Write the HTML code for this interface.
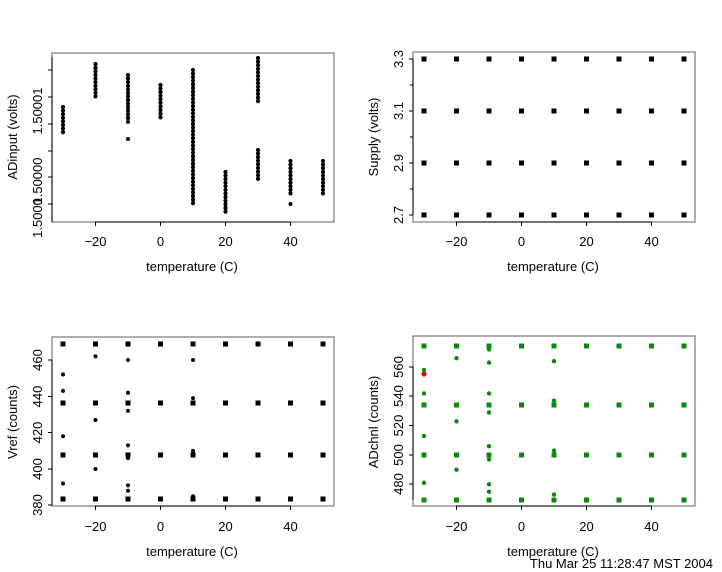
<!DOCTYPE html><html><head><style>body{margin:0;background:#fff}svg{display:block}text{font-family:"Liberation Sans",sans-serif;font-size:13px;fill:#000}</style></head><body>
<svg id="s" width="722" height="572" xmlns="http://www.w3.org/2000/svg">
<rect width="722" height="572" fill="#fff"/>
<g fill="none" stroke="#777" stroke-width="1.2">
<rect x="52" y="53" width="282" height="169"/>
<rect x="413" y="52" width="282" height="170"/>
<rect x="52" y="337" width="282" height="169"/>
<rect x="413" y="336" width="282" height="170"/>
</g>
<g id="g"></g>
<text x="192" y="271" text-anchor="middle">temperature (C)</text>
<text x="553" y="271" text-anchor="middle">temperature (C)</text>
<text x="192" y="556" text-anchor="middle">temperature (C)</text>
<text x="553" y="556" text-anchor="middle">temperature (C)</text>
<text transform="translate(17,137) rotate(-90)" text-anchor="middle">ADinput (volts)</text>
<text transform="translate(378,137) rotate(-90)" text-anchor="middle">Supply (volts)</text>
<text transform="translate(17,422) rotate(-90)" text-anchor="middle">Vref (counts)</text>
<text transform="translate(378,422) rotate(-90)" text-anchor="middle">ADchnl (counts)</text>
<text x="713" y="568" text-anchor="end">Thu Mar 25 11:28:47 MST 2004</text>
</svg>
<script>
var g=document.getElementById('g'),h='';
function xp(t,o){return o+160.5+t*3.25;}
function c(x,y,r,f){h+='<circle cx="'+x+'" cy="'+y+'" r="'+(r||2.2)+'" fill="'+(f||'#000')+'"/>';}
function sq(x,y,f){h+='<rect x="'+(x-2.5)+'" y="'+(y-2.5)+'" width="5" height="5" fill="'+(f||'#000')+'"/>';}
function ln(a,b,c2,d){h+='<line x1="'+a+'" y1="'+b+'" x2="'+c2+'" y2="'+d+'" stroke="#000" stroke-width="1"/>';}
function tx(x,y,s,rot){h+=rot?'<text transform="translate('+x+','+y+') rotate(-90)" text-anchor="middle">'+s+'</text>':'<text x="'+x+'" y="'+y+'" text-anchor="middle">'+s+'</text>';}
var T=[-30,-20,-10,0,10,20,30,40,50];
[0,361].forEach(function(o){[[222,246],[506,531]].forEach(function(a){
 ln(o+95,a[0],o+290,a[0]);
 [-20,0,20,40].forEach(function(t){var x=xp(t,o);ln(x,a[0],x,a[0]+4);tx(x,a[1],t==-20?'\u221220':t);});
});});
// panel1
ln(52,57,52,222);
[70,97,124,151,177,204].forEach(function(y){ln(48,y,52,y);});
tx(42,111,'1.50001',1);tx(42,181,'1.50000',1);tx(42,218,'1.5000',1);
var P1=[[-30,107,135],[-20,64,97],[-10,75,124],[0,85,119],[10,70,205],[20,172,215],[30,58,102],[30,150,179],[40,161,194],[50,161,194]];
P1.forEach(function(p){for(var y=p[1];y<=p[2];y+=3.6){c(xp(p[0],0),y,2.1);}});
c(xp(-10,0),139,2);c(xp(40,0),204,2);
// panel2
ln(413,59,413,215);
[[59,'3.3'],[111,'3.1'],[163,'2.9'],[215,'2.7']].forEach(function(a){ln(409,a[0],413,a[0]);tx(403,a[0],a[1],1);});
[85,137,189].forEach(function(y){ln(410,y,413,y);});
T.forEach(function(t){[59,111,163,215].forEach(function(y){sq(xp(t,361),y);});});
// panel3
ln(52,360,52,505);
[[360,'460'],[396.5,'440'],[432.5,'420'],[469,'400'],[505,'380']].forEach(function(a){ln(48,a[0],52,a[0]);tx(42,a[0],a[1],1);});
function v3(n){return 360+(460-n)*1.8167;}
T.forEach(function(t){[344,403,455,499].forEach(function(y){sq(xp(t,0),y);});});
var O3={'-30':[452,443,418,392],'-20':[462,427,400],'-10':[460,442,432,413,406,391,388],'10':[460,439,410,385]};
for(var k in O3)O3[k].forEach(function(n){c(xp(+k,0),v3(n),2);});
// panel4
ln(413,367,413,500);
[[367,'560'],[396,'540'],[425.5,'520'],[455,'500'],[484,'480']].forEach(function(a){ln(409,a[0],413,a[0]);tx(403,a[0],a[1],1);});
function v4(n){return 367+(560-n)*1.4667;}
var G='#0a8a0a';
T.forEach(function(t){[346,405,455,500].forEach(function(y){sq(xp(t,361),y,G);});});
c(xp(-30,361),374,2.6,'#e00');
var O4={'-30':[558,542,513,481],'-20':[566,523,490],'-10':[572,563,542,529,506,497,480,475],'10':[564,537,503,473]};
for(var k in O4)O4[k].forEach(function(n){c(xp(+k,361),v4(n),2.2,G);});
g.innerHTML=h;
</script>
</body></html>
